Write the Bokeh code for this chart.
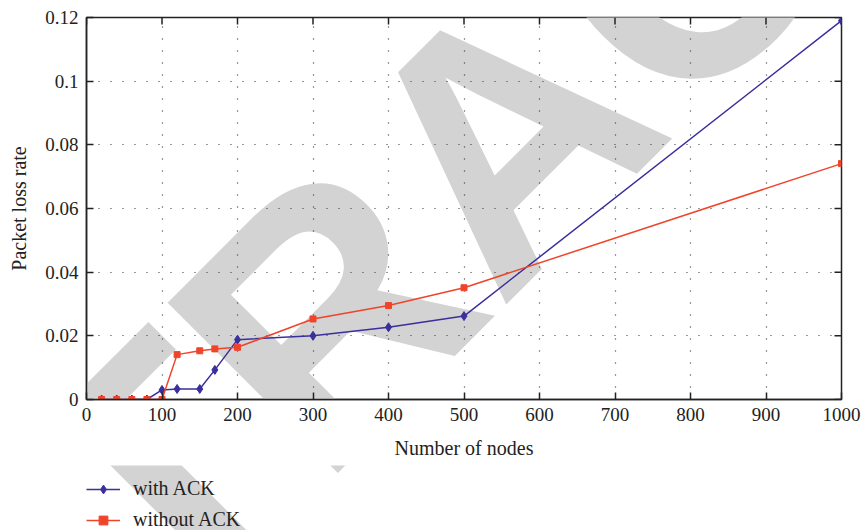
from bokeh.plotting import figure
from bokeh.models import Legend, LegendItem, FixedTicker, Range1d, Label
from bokeh.layouts import column
from bokeh.embed import file_html
from bokeh.resources import INLINE

# Data
nodes = [20, 40, 60, 80, 100, 120, 150, 170, 200, 300, 400, 500, 1000]
with_ack = [0, 0, 0, 0, 0.0030, 0.0033, 0.0033, 0.0093, 0.0188, 0.0200, 0.0227, 0.0262, 0.1190]
without_ack = [0, 0, 0, 0, 0, 0.0141, 0.0153, 0.0159, 0.0164, 0.0253, 0.0295, 0.0351, 0.0741]
x_ticks = [0, 100, 200, 300, 400, 500, 600, 700, 800, 900, 1000]
y_ticks = [0, 0.02, 0.04, 0.06, 0.08, 0.1, 0.12]
y_tick_labels = {0: "0", 0.02: "0.02", 0.04: "0.04", 0.06: "0.06", 0.08: "0.08", 0.1: "0.1", 0.12: "0.12"}
series_labels = ["with ACK", "without ACK"]
watermark = "RETRACTED"

SERIF = "Liberation Serif"
BLUE = "#3a2f9c"
RED = "#f0442a"
INK = "#222222"
X0, X1, Y0, Y1 = 0, 1000, 0, 0.12
FRAME_W, FRAME_H = 755, 382
FRAME_L, FRAME_T = 86, 17
MAIN_H, LEG_H = 465, 65
WM_PAGE = (503, 135)   # watermark centre in page pixels
WM_STYLE = dict(text=watermark, angle=45, angle_units="deg", text_font="Liberation Sans",
                text_font_style="bold", text_font_size="350px", text_color="#d3d3d3",
                text_align="center", text_baseline="middle", level="image")

p = figure(width=862, height=MAIN_H, output_backend="svg", toolbar_location=None,
           x_range=Range1d(X0, X1), y_range=Range1d(Y0, Y1),
           min_border_left=FRAME_L, min_border_right=21, min_border_top=FRAME_T,
           min_border_bottom=MAIN_H - FRAME_T - FRAME_H,
           x_axis_label="Number of nodes", y_axis_label="Packet loss rate")
p.outline_line_color = INK
p.outline_line_width = 1.5

# watermark (behind everything)
wx = X0 + (WM_PAGE[0] - FRAME_L) / FRAME_W * (X1 - X0)
wy = Y1 - (WM_PAGE[1] - FRAME_T) / FRAME_H * (Y1 - Y0)
p.add_layout(Label(x=wx, y=wy, **WM_STYLE))

for ax in p.xaxis + p.yaxis:
    ax.major_tick_in = 7
    ax.major_tick_out = 0
    ax.minor_tick_in = 0
    ax.minor_tick_out = 0
    ax.axis_line_color = INK
    ax.axis_line_width = 1.5
    ax.major_tick_line_color = INK
    ax.major_tick_line_width = 1.5
    ax.major_label_text_font = SERIF
    ax.major_label_text_font_size = "19px"
    ax.major_label_text_color = INK
    ax.axis_label_text_font = SERIF
    ax.axis_label_text_font_size = "20px"
    ax.axis_label_text_font_style = "normal"
    ax.axis_label_text_color = INK

p.xaxis.ticker = FixedTicker(ticks=x_ticks)
p.yaxis.ticker = FixedTicker(ticks=y_ticks)
p.yaxis.major_label_overrides = y_tick_labels
p.xaxis.major_label_standoff = 8
p.yaxis.major_label_standoff = 8
p.xaxis.axis_label_standoff = 13
p.yaxis.axis_label_standoff = 12

# mirrored inward ticks on the top and right edges (derived from the tick lists)
tx = 7 * (X1 - X0) / FRAME_W
ty = 7 * (Y1 - Y0) / FRAME_H
p.segment(x0=x_ticks, y0=[Y1] * len(x_ticks), x1=x_ticks, y1=[Y1 - ty] * len(x_ticks),
          line_color=INK, line_width=1.5)
p.segment(x0=[X1] * len(y_ticks), y0=y_ticks, x1=[X1 - tx] * len(y_ticks), y1=y_ticks,
          line_color=INK, line_width=1.5)

p.xgrid.ticker = FixedTicker(ticks=x_ticks)
p.ygrid.ticker = FixedTicker(ticks=y_ticks)
for g in (p.xgrid, p.ygrid):
    g.grid_line_color = "#333333"
    g.grid_line_dash = "1 11"
    g.grid_line_width = 1.2

p.line(nodes, with_ack, line_color=BLUE, line_width=1.5)
p.scatter(nodes, with_ack, marker="diamond", size=9, fill_color=BLUE, line_color=BLUE)
p.line(nodes, without_ack, line_color=RED, line_width=1.5)
p.scatter(nodes, without_ack, marker="square", size=6, fill_color=RED, line_color=RED)

# legend strip below the chart (same series, drawn out of view so only the legend shows)
QX0, QX1, QY0, QY1 = -20, -10, -2, -1
q = figure(width=862, height=LEG_H, output_backend="svg", toolbar_location=None,
           x_range=Range1d(QX0, QX1), y_range=Range1d(QY0, QY1),
           min_border=0, x_axis_location=None, y_axis_location=None)
q.outline_line_color = None
q.grid.visible = False
qwx = QX0 + (WM_PAGE[0] - FRAME_L) / FRAME_W * (QX1 - QX0)
qwy = QY1 + (MAIN_H - WM_PAGE[1]) / LEG_H * (QY1 - QY0)
q.add_layout(Label(x=qwx, y=qwy, **WM_STYLE))
q1 = q.line(nodes, with_ack, line_color=BLUE, line_width=1.5)
q2 = q.scatter(nodes, with_ack, marker="diamond", size=9, fill_color=BLUE, line_color=BLUE)
q3 = q.line(nodes, without_ack, line_color=RED, line_width=1.5)
q4 = q.scatter(nodes, without_ack, marker="square", size=6, fill_color=RED, line_color=RED)
legend = Legend(items=[LegendItem(label=series_labels[0], renderers=[q1, q2]),
                       LegendItem(label=series_labels[1], renderers=[q3, q4])],
                location=(0, -1), orientation="vertical",
                label_text_font=SERIF, label_text_font_size="20px", label_text_color=INK,
                glyph_width=34, glyph_height=22, label_standoff=13, spacing=8,
                padding=0, margin=0, border_line_color=None, background_fill_alpha=0)
q.add_layout(legend, "center")

open("out.html", "w").write(file_html(column(p, q, spacing=0), INLINE))
